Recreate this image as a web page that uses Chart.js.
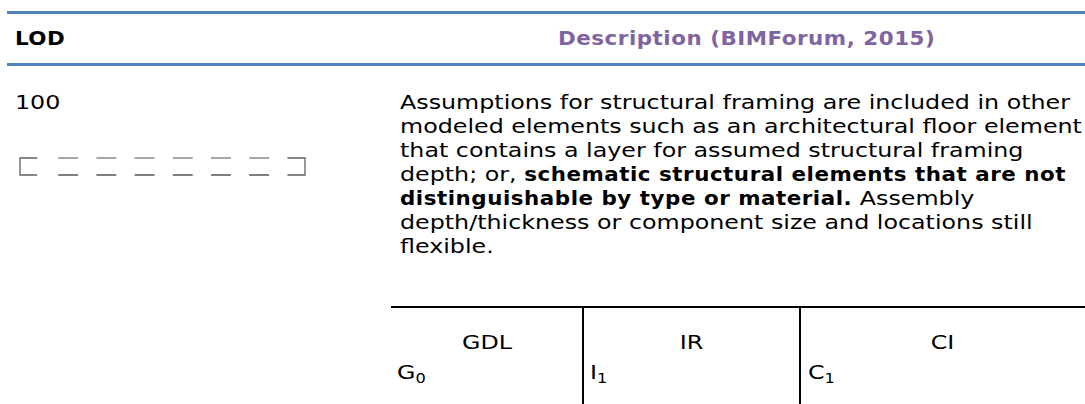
<!DOCTYPE html>
<html>
<head>
<meta charset="utf-8">
<script src="https://cdn.jsdelivr.net/npm/chart.js@4.4.1/dist/chart.umd.min.js"></script>
<style>
  html, body { margin: 0; padding: 0; background: #fff; }
  body { width: 1085px; height: 404px; position: relative; overflow: hidden;
         font-family: "DejaVu Sans", sans-serif; font-size: 20px; color: #000; }
  .rule { position: absolute; left: 7px; right: 0; height: 3px; background: #4F81BD; }
  .t { position: absolute; white-space: nowrap; transform-origin: 0 50%; }
  .c { text-align: center; transform-origin: 50% 50%; }
  .hd, b { font-weight: bold; font-family: "DejaVu Sans Condensed", "DejaVu Sans", sans-serif; letter-spacing: 0.45px; }
  .desc { line-height: 24px; }
  .sub { position: absolute; border-left: 2px solid #000; top: 307px; bottom: 0; }
  sub { font-size: 0.68em; vertical-align: -0.3em; line-height: 0; }
  #beam { position: absolute; left: 16px; top: 154px; }
</style>
</head>
<body>
<div class="rule" style="top:11px"></div>
<div class="rule" style="top:63px"></div>
<div class="t hd" style="left:15px; top:26px">LOD</div>
<div class="t hd" style="left:558px; top:26px; color:#8064A2">Description (BIMForum, 2015)</div>

<div class="t" style="left:15px; top:90px">100</div>
<div class="t desc" style="left:400px; top:90px">
<span id="line1">Assumptions for structural framing are included in other</span><br>
modeled elements such as an architectural floor element<br>
that contains a layer for assumed structural framing<br>
depth; or, <b>schematic structural elements that are not</b><br>
<b>distinguishable by type or material.</b> Assembly<br>
depth/thickness or component size and locations still<br>
flexible.
</div>

<div style="position:absolute; left:391px; right:0; top:306px; height:2px; background:#000"></div>
<div class="sub" style="left:582px"></div>
<div class="sub" style="left:799px"></div>
<div class="t c" style="left:391px; width:192px; top:330px">GDL</div>
<div class="t" style="left:397px; top:360px">G<sub>0</sub></div>
<div class="t c" style="left:583px; width:217px; top:330px">IR</div>
<div class="t" style="left:590px; top:360px">I<sub>1</sub></div>
<div class="t c" style="left:800px; width:285px; top:330px">CI</div>
<div class="t" style="left:808px; top:360px">C<sub>1</sub></div>

<canvas id="beam" width="293" height="25"></canvas>

<script>
// the source table is set in a wide face; stretch ours to the same line length
const line1Width = 670;
const s = line1Width / document.getElementById('line1').getBoundingClientRect().width;
document.querySelectorAll('.t').forEach(e => { e.style.transform = 'scaleX(' + s + ')'; });

// schematic beam under LOD 100, in panel units along the span
const flangePieces = [[0, 0.45], [1, 1.52], [2, 2.52], [3, 3.52], [4, 4.52], [5, 5.52], [6, 6.52], [7, 7.46]];
const flangeLevels = [0, 1]; // top, bottom
const spanEnd = 7.46;

function flange(level) {
    const pts = [];
    flangePieces.forEach(([a, b], i) => {
        if (i === 0 || i === flangePieces.length - 1) return;
        pts.push({ x: a, y: level }, { x: b, y: level }, { x: b + 0.1, y: null });
    });
    return pts;
}
const first = flangePieces[0];
const last = flangePieces[flangePieces.length - 1];
const leftEnd = [
    { x: first[1], y: flangeLevels[0] }, { x: first[0], y: flangeLevels[0] },
    { x: first[0], y: flangeLevels[1] }, { x: first[1], y: flangeLevels[1] }
];
const rightEnd = [
    { x: last[0], y: flangeLevels[0] }, { x: last[1], y: flangeLevels[0] },
    { x: last[1], y: flangeLevels[1] }, { x: last[0], y: flangeLevels[1] }
];

const line = (data, color) => ({ data, showLine: true, borderColor: color, borderWidth: 1.3,
    pointRadius: 0, spanGaps: false, clip: false, tension: 0 });

const cfg = {
    type: 'scatter',
    data: {
        datasets: [
            line(leftEnd, '#5f5f5f'),
            line(flange(flangeLevels[0]), '#8a8a8a'),
            line(flange(flangeLevels[1]), '#555555'),
            line(rightEnd, '#5f5f5f'),
        ]
    },
    options: {
        responsive: false,
        animation: false,
        layout: { padding: 4 },
        plugins: { legend: { display: false }, tooltip: { enabled: false } },
        scales: {
            x: { type: 'linear', display: false, min: 0, max: spanEnd },
            y: { type: 'linear', display: false, min: 0, max: 1, reverse: true },
        }
    }
};
const beamChart = new Chart(document.getElementById('beam').getContext('2d'), cfg);
</script>
</body>
</html>
